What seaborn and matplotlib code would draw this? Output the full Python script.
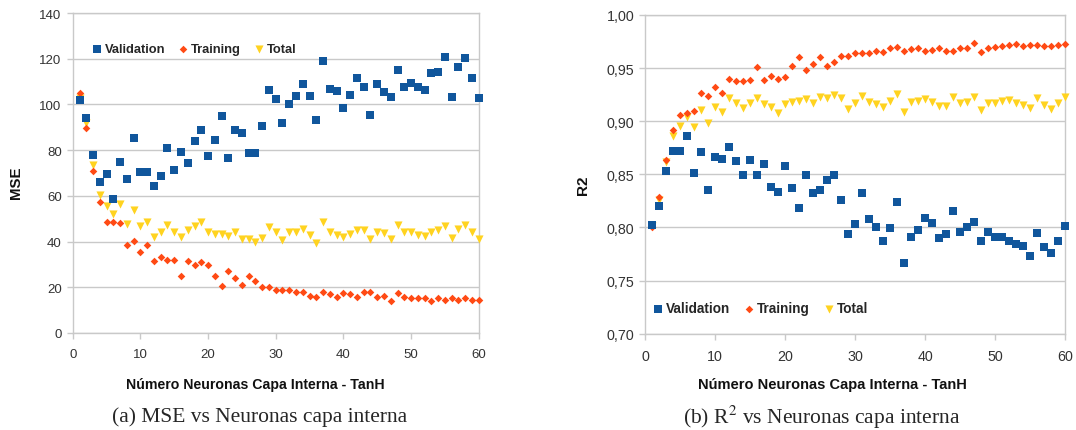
import numpy as np
import pandas as pd
import matplotlib
matplotlib.use("Agg")
import matplotlib.pyplot as plt
from matplotlib.ticker import FuncFormatter, MultipleLocator
import seaborn as sns

# ---- data -------------------------------------------------------------
neuronas = list(range(1, 61))

mse_validation = [102, 94, 78, 66.2, 69.4, 58.6, 75, 67.5, 85.1, 70.6,
                  70.6, 64.5, 68.6, 81.1, 71.5, 79.2, 74.4, 83.9, 89.0, 77.3,
                  84.6, 94.9, 76.5, 88.6, 87.6, 78.8, 78.8, 90.5, 106.3, 102.5,
                  91.7, 100.4, 103.6, 108.8, 103.9, 93.4, 119.0, 106.6, 105.8, 98.5,
                  104.1, 111.7, 107.6, 95.2, 108.8, 105.6, 103.2, 114.9, 107.8, 109.5,
                  107.8, 106.3, 113.6, 114.2, 120.9, 103.2, 116.2, 120.3, 111.5, 102.8]
mse_training = [105.1, 89.8, 70.9, 57.2, 48.5, 48.5, 48.1, 38.3, 40.1, 35.4,
                38.3, 31.7, 33.2, 32.0, 32.0, 25.1, 31.7, 29.7, 31.1, 29.7,
                25.0, 20.6, 27.2, 24.1, 20.8, 25.0, 22.8, 19.9, 20.3, 18.8,
                18.6, 18.9, 18.0, 18.0, 16.2, 15.9, 18.0, 17.0, 15.9, 17.4,
                17.0, 15.9, 18.0, 18.0, 15.9, 16.2, 13.9, 17.7, 15.9, 15.5,
                15.2, 15.1, 14.0, 15.2, 14.3, 15.1, 14.5, 15.2, 14.5, 14.3]
mse_total = [103, 92, 73.5, 60.5, 55.4, 52.1, 56.6, 47.8, 53.9, 46.6,
             48.5, 42.0, 44.0, 47.2, 44.2, 42.0, 44.9, 46.6, 48.7, 44.4,
             43.1, 43.1, 42.3, 44.0, 41.2, 41.2, 39.6, 41.5, 46.2, 44.2,
             40.8, 44.0, 44.2, 45.6, 42.7, 39.3, 48.5, 44.2, 43.0, 42.0,
             43.4, 45.2, 45.2, 41.2, 44.4, 43.7, 41.2, 47.4, 44.2, 44.2,
             43.0, 42.3, 44.4, 45.2, 46.6, 41.5, 45.5, 47.1, 44.4, 41.2]

r2_validation = [0.8027, 0.8206, 0.8535, 0.8723, 0.8720, 0.8858, 0.8513, 0.8714, 0.8353, 0.8667,
                 0.8645, 0.8755, 0.8629, 0.8495, 0.8638, 0.8497, 0.8602, 0.8381, 0.8331, 0.8582,
                 0.8369, 0.8187, 0.8494, 0.8325, 0.8356, 0.8450, 0.8494, 0.8262, 0.7936, 0.8036,
                 0.8322, 0.8080, 0.8002, 0.7876, 0.7996, 0.8237, 0.7663, 0.7908, 0.7980, 0.8093,
                 0.8043, 0.7899, 0.7942, 0.8153, 0.7961, 0.8002, 0.8049, 0.7876, 0.7955, 0.7908,
                 0.7908, 0.7876, 0.7842, 0.7829, 0.7729, 0.7945, 0.7817, 0.7760, 0.7870, 0.8017]
r2_training = [0.8002, 0.8285, 0.8636, 0.8918, 0.9062, 0.9078, 0.9100, 0.9266, 0.9240, 0.9320,
               0.9263, 0.9398, 0.9382, 0.9382, 0.9388, 0.9508, 0.9388, 0.9429, 0.9398, 0.9414,
               0.9523, 0.9602, 0.9485, 0.9536, 0.9600, 0.9523, 0.9560, 0.9617, 0.9617, 0.9642,
               0.9642, 0.9642, 0.9658, 0.9650, 0.9690, 0.9696, 0.9664, 0.9680, 0.9690, 0.9664,
               0.9670, 0.9686, 0.9658, 0.9664, 0.9686, 0.9686, 0.9733, 0.9650, 0.9686, 0.9702,
               0.9710, 0.9718, 0.9727, 0.9710, 0.9718, 0.9718, 0.9710, 0.9710, 0.9718, 0.9727]
r2_total = [0.8010, 0.8260, 0.8620, 0.8865, 0.8958, 0.9037, 0.8943, 0.9109, 0.8984, 0.9131,
            0.9090, 0.9216, 0.9172, 0.9122, 0.9172, 0.9216, 0.9163, 0.9131, 0.9078, 0.9163,
            0.9178, 0.9194, 0.9210, 0.9175, 0.9225, 0.9220, 0.9247, 0.9216, 0.9115, 0.9170,
            0.9235, 0.9178, 0.9163, 0.9131, 0.9194, 0.9257, 0.9084, 0.9178, 0.9194, 0.9210,
            0.9178, 0.9147, 0.9147, 0.9225, 0.9170, 0.9185, 0.9225, 0.9109, 0.9170, 0.9172,
            0.9194, 0.9200, 0.9172, 0.9153, 0.9122, 0.9216, 0.9153, 0.9115, 0.9172, 0.9231]

series_names = ["Validation", "Training", "Total"]
x_label = "Número Neuronas Capa Interna - TanH"
captions = ["(a) MSE vs Neuronas capa interna", "(b) R$^{2}$ vs Neuronas capa interna"]

# ---- style ------------------------------------------------------------
sns.set_style("white")
plt.rcParams["font.family"] = ["Liberation Sans", "DejaVu Sans"]
plt.rcParams["mathtext.fontset"] = "stix"

colors = {"Validation": "#10569c", "Training": "#ff4a14", "Total": "#ffd320"}
markers = {"Validation": "s", "Training": "D", "Total": "v"}
sizes = {"Validation": 30, "Training": 15, "Total": 34}
zorders = {"Validation": 5, "Training": 4, "Total": 3}
grid_c = "#c9c9c9"

fig = plt.figure(figsize=(10.76, 4.31), dpi=100)
ax1 = fig.add_axes([0.0676, 0.2251, 0.3773, 0.7424])
ax2 = fig.add_axes([0.5997, 0.2234, 0.3903, 0.7395])


def draw(ax, frame, ylim, ystep, ylabel, label_xy, legend_xy, fmt, lfs, tfs, afs):
    for name in series_names:
        sns.scatterplot(data=frame, x="n", y=name, ax=ax, marker=markers[name],
                        color=colors[name], s=sizes[name], linewidth=0,
                        label=name, zorder=zorders[name], clip_on=False)
    ax.set_xlim(0, 60)
    ax.set_ylim(*ylim)
    ax.xaxis.set_major_locator(MultipleLocator(10))
    ax.yaxis.set_major_locator(MultipleLocator(ystep))
    ax.yaxis.set_major_formatter(FuncFormatter(fmt))
    ax.grid(axis="y", color=grid_c, linewidth=1.0)
    ax.set_axisbelow(True)
    for sp in ax.spines.values():
        sp.set_color(grid_c)
        sp.set_linewidth(1.0)
    ax.tick_params(axis="both", direction="out", length=4, width=1.0,
                   color=grid_c, labelcolor="#333333", labelsize=tfs,
                   bottom=True, left=True)
    ax.tick_params(axis="x", pad=7)
    ax.tick_params(axis="y", pad=4)
    ax.set_xlabel(x_label, fontsize=afs, fontweight="bold", color="#111111")
    ax.set_ylabel(ylabel, fontsize=afs + 0.6, fontweight="bold", color="#111111")
    ax.xaxis.set_label_coords(*label_xy[0])
    ax.yaxis.set_label_coords(*label_xy[1])
    ax.legend(loc="center left", bbox_to_anchor=legend_xy, ncol=3, frameon=False,
              borderpad=0, borderaxespad=0, handlelength=0.8, handletextpad=0.2,
              columnspacing=1.0, markerscale=1.0,
              prop={"weight": "bold", "size": lfs})


mse_df = pd.DataFrame({"n": neuronas, "Validation": mse_validation,
                       "Training": mse_training, "Total": mse_total})
r2_df = pd.DataFrame({"n": neuronas, "Validation": r2_validation,
                      "Training": r2_training, "Total": r2_total})

draw(ax1, mse_df, (0, 140), 20, "MSE",
     ((0.45, -0.137), (-0.122, 0.472)), (0.047, 0.8875),
     lambda v, p: f"{v:.0f}", 9.3, 9.5, 10.2)
draw(ax2, r2_df, (0.70, 1.00), 0.05, "R2",
     ((0.445, -0.137), (-0.132, 0.47)), (0.0167, 0.0797),
     lambda v, p: f"{v:.2f}".replace(".", ","), 9.8, 10.3, 10.5)

fig.text(259.7 / 1076, 1 - 417 / 431, captions[0], ha="center", va="center",
         fontsize=15.5, family=["Liberation Serif", "DejaVu Serif"])
fig.text(822 / 1076, 1 - 417 / 431, captions[1], ha="center", va="center",
         fontsize=15.5, family=["Liberation Serif", "DejaVu Serif"])

fig.savefig("out.png", dpi=100, facecolor="white")
